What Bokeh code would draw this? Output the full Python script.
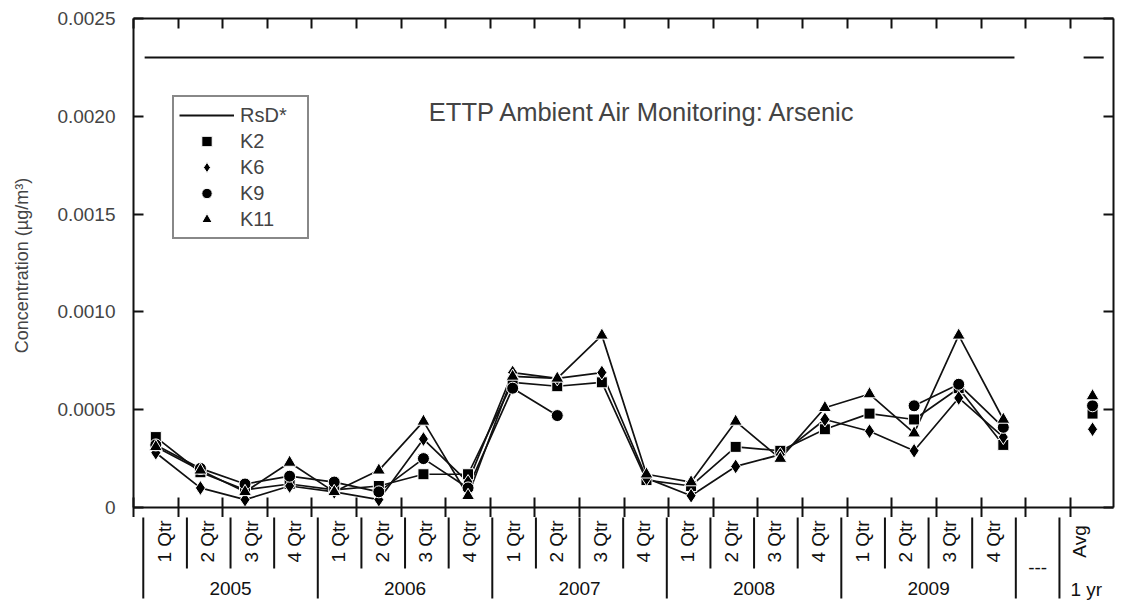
import numpy as np
from bokeh.plotting import figure
from bokeh.layouts import column
from bokeh.core.properties import value
from bokeh.models import (Range1d, LinearAxis, FixedTicker, CustomJSTickFormatter,
                          Label, Legend, LegendItem)
from bokeh.embed import file_html
from bokeh.resources import INLINE

# ---- data -------------------------------------------------------------
years = ["2005", "2006", "2007", "2008", "2009"]
quarter_names = ["1 Qtr", "2 Qtr", "3 Qtr", "4 Qtr"]
quarter_labels = quarter_names * len(years)
x_quarters = list(range(1, 21))
x_gap = 21          # "---" column
x_avg = 22          # 1-yr average column

k2 = [0.00036, 0.00018, 0.00009, 0.00012, 0.00009, 0.00011, 0.00017, 0.00017,
      0.00064, 0.00062, 0.00064, 0.00014, 0.00011, 0.00031, 0.00029, 0.00040,
      0.00048, 0.00045, 0.00061, 0.00032]
k6 = [0.00028, 0.00010, 0.00004, 0.00011, 0.00008, 0.00004, 0.00035, 0.00013,
      0.00069, 0.00066, 0.00069, 0.00015, 0.00006, 0.00021, 0.00027, 0.00045,
      0.00039, 0.00029, 0.00056, 0.00036]
k9 = [0.00032, 0.00020, 0.00012, 0.00016, 0.00013, 0.00008, 0.00025, 0.00010,
      0.00061, 0.00047, np.nan, np.nan, np.nan, np.nan, np.nan, np.nan,
      np.nan, 0.00052, 0.00063, 0.00041]
k11 = [0.00031, 0.00019, 0.00008, 0.00023, 0.00008, 0.00019, 0.00044, 0.00006,
       0.00067, 0.00066, 0.00088, 0.00017, 0.00013, 0.00044, 0.00025, 0.00051,
       0.00058, 0.00038, 0.00088, 0.00045]
avg = {"K2": 0.00048, "K6": 0.00040, "K9": 0.00052, "K11": 0.00057}
rsd = 0.0023

y_ticks = [0, 0.0005, 0.0010, 0.0015, 0.0020, 0.0025]

FONT = "Liberation Sans"
INK = "#111111"

# ---- geometry ---------------------------------------------------------
W = 1125
FRAME_L, FRAME_R = 133, 1113
FRAME_T, FRAME_B = 18, 507
TOP_H = 517                                 # main chart canvas height
X0, X1 = 0.5, 22.47
ppu = (FRAME_R - FRAME_L) / (X1 - X0)     # pixels per column

# ---- main chart -------------------------------------------------------
p = figure(width=W, height=TOP_H, x_range=Range1d(X0, X1),
           y_range=Range1d(0, 0.0025), output_backend="svg",
           toolbar_location=None, x_axis_location=None, y_axis_location=None,
           min_border_left=FRAME_L, min_border_right=W - FRAME_R,
           min_border_top=FRAME_T, min_border_bottom=TOP_H - FRAME_B)
p.outline_line_color = None
p.xgrid.visible = False
p.ygrid.visible = False

blank = CustomJSTickFormatter(code="return ''")
axis_style = dict(axis_line_width=2, axis_line_color=INK,
                  major_tick_line_width=2, major_tick_line_color=INK,
                  minor_tick_line_width=2, minor_tick_line_color=INK,
                  minor_tick_in=0, minor_tick_out=0)

left = LinearAxis(ticker=FixedTicker(ticks=y_ticks),
                  formatter=CustomJSTickFormatter(code="return tick == 0 ? '0' : tick.toFixed(4);"),
                  major_tick_in=10, major_tick_out=0,
                  major_label_standoff=18, axis_label="Concentration  (µg/m³)",
                  axis_label_standoff=22, axis_label_text_font=FONT,
                  axis_label_text_font_size="18px", axis_label_text_font_style="normal",
                  major_label_text_font=FONT, major_label_text_font_size="19px",
                  **axis_style)
p.add_layout(left, "left")

right = LinearAxis(ticker=FixedTicker(ticks=y_ticks), formatter=blank,
                   major_tick_in=10, major_tick_out=0, major_label_standoff=0,
                   **axis_style)
p.add_layout(right, "right")

bounds = [b + 0.5 for b in range(0, 22)]
year_bounds = [0.5, 4.5, 8.5, 12.5, 16.5, 20.5, 21.5]
quarter_bounds = [b for b in bounds if b not in year_bounds]

top = LinearAxis(ticker=FixedTicker(ticks=bounds), formatter=blank,
                 major_tick_in=10, major_tick_out=0, major_label_standoff=0,
                 **axis_style)
p.add_layout(top, "above")

# bottom ticks run through the axis into the category strip below
bottom = LinearAxis(ticker=FixedTicker(ticks=bounds), formatter=blank,
                    major_tick_in=10, major_tick_out=TOP_H - FRAME_B,
                    major_label_standoff=0, **axis_style)
p.add_layout(bottom, "below")

# reference dose line
rsd_r = p.segment(x0=[x_quarters[0] - 0.25, x_avg - 0.2],
                  x1=[x_quarters[-1] + 0.25, x_avg + 0.25],
                  y0=[rsd, rsd], y1=[rsd, rsd], line_color=INK, line_width=2)

# station series
series = [("K2", k2, "square", 11), ("K6", k6, "diamond", 15),
          ("K9", k9, "circle", 12), ("K11", k11, "triangle", 13)]

for name, vals, *_ in series:
    p.line(x_quarters, vals, line_color=INK, line_width=1.7)

marker_renderers = {}
for name, vals, marker, size in series:
    xs = x_quarters + [x_avg]
    ys = list(vals) + [avg[name]]
    marker_renderers[name] = p.scatter(xs, ys, marker=marker, size=size,
                                       fill_color="black", line_color="white",
                                       line_width=1)

legend = Legend(items=[LegendItem(label="RsD*", renderers=[rsd_r])] +
                [LegendItem(label=n, renderers=[marker_renderers[n]]) for n, *_ in series],
                location=(39, 268), border_line_color=INK, border_line_width=2,
                background_fill_color="white", background_fill_alpha=1,
                padding=5, spacing=0, margin=0, glyph_width=55, glyph_height=26,
                label_height=20, label_width=62, label_standoff=6,
                label_text_font=FONT, label_text_font_size="20px")
p.add_layout(legend, "center")

p.add_layout(Label(x=643 - FRAME_L, y=FRAME_B - 111, x_units="screen", y_units="screen",
                   text="ETTP Ambient Air Monitoring: Arsenic", text_font=FONT,
                   text_font_size="25.5px", text_align="center", text_baseline="middle"))

# ---- category strip under the axis ------------------------------------
PAD_L, PAD_R = 10, W - FRAME_R
s = figure(width=W, height=610 - TOP_H,
           x_range=Range1d(X0 - PAD_L / ppu, X1 + PAD_R / ppu),
           y_range=Range1d(610, TOP_H),        # canvas rows
           output_backend="svg", toolbar_location=None,
           x_axis_location=None, y_axis_location=None,
           min_border_left=FRAME_L - PAD_L, min_border_right=0,
           min_border_top=0, min_border_bottom=0)
s.outline_line_color = None
s.xgrid.visible = False
s.ygrid.visible = False

s.segment(x0=quarter_bounds, x1=quarter_bounds, y0=TOP_H - 1, y1=568,
          line_color=INK, line_width=2)
s.segment(x0=year_bounds, x1=year_bounds, y0=TOP_H - 1, y1=598,
          line_color=INK, line_width=2)

txt = dict(text_font=value(FONT), text_font_size="19px", text_color=INK,
           text_align="center", text_baseline="middle")
s.text(x=x_quarters, y=[541] * len(x_quarters), text=quarter_labels,
       angle=np.pi / 2, x_offset=-1, **txt)
s.text(x=[4 * i + 2.5 for i in range(len(years))], y=[588] * len(years), text=years,
       **txt)
s.text(x=[x_avg], y=[541], text=["Avg"], angle=np.pi / 2, x_offset=-2, **txt)
s.text(x=[x_avg], y=[589], text=["1 yr"], x_offset=5, **txt)
s.text(x=[x_gap], y=[567], text=["---"], **txt)

layout = column(p, s, spacing=0)
open("out.html", "w").write(file_html(layout, INLINE))
